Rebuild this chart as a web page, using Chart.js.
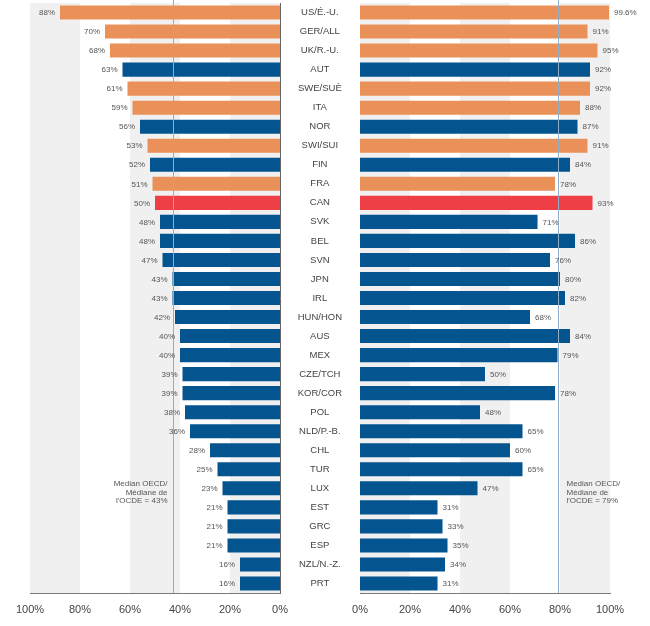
<!DOCTYPE html>
<html>
<head>
<meta charset="utf-8">
<script src="https://cdn.jsdelivr.net/npm/chart.js@4.4.1/dist/chart.umd.min.js"></script>
<style>
  html, body { margin: 0; padding: 0; background: #ffffff; }
  #wrap { position: relative; width: 650px; height: 626px; overflow: hidden; }
  #leftBox { position: absolute; left: 0; top: 0; width: 300px; height: 626px; }
  #rightBox { position: absolute; left: 280px; top: 0; width: 370px; height: 626px; }
</style>
</head>
<body>
<div id="wrap">
  <div id="leftBox"><canvas id="leftChart" width="300" height="626"></canvas></div>
  <div id="rightBox"><canvas id="rightChart" width="370" height="626"></canvas></div>
</div>
<script>
// ---- data ----
const countries = ['US/É.-U.', 'GER/ALL', 'UK/R.-U.', 'AUT', 'SWE/SUÈ', 'ITA', 'NOR', 'SWI/SUI', 'FIN', 'FRA',
  'CAN', 'SVK', 'BEL', 'SVN', 'JPN', 'IRL', 'HUN/HON', 'AUS', 'MEX', 'CZE/TCH', 'KOR/COR', 'POL',
  'NLD/P.-B.', 'CHL', 'TUR', 'LUX', 'EST', 'GRC', 'ESP', 'NZL/N.-Z.', 'PRT'];
const leftValues = [88, 70, 68, 63, 61, 59, 56, 53, 52, 51, 50, 48, 48, 47, 43, 43, 42, 40, 40, 39, 39, 38,
  36, 28, 25, 23, 21, 21, 21, 16, 16];
const rightValues = [99.6, 91, 95, 92, 92, 88, 87, 91, 84, 78, 93, 71, 86, 76, 80, 82, 68, 84, 79, 50, 78, 48,
  65, 60, 65, 47, 31, 33, 35, 34, 31];
const orangeGroup = ['US/É.-U.', 'GER/ALL', 'UK/R.-U.', 'SWE/SUÈ', 'ITA', 'SWI/SUI', 'FRA'];
const focusCountry = 'CAN';
const leftTicks = [0, 20, 40, 60, 80, 100];
const rightTicks = [0, 20, 40, 60, 80, 100];
const medianLeft = 43;
const medianRight = 79;
const medianLeftText = ['Median OECD/', 'Médiane de', "l'OCDE = 43%"];
const medianRightText = ['Median OECD/', 'Médiane de', "l'OCDE = 79%"];

// ---- styles ----
const FONT = "'Liberation Sans', Arial, Helvetica, sans-serif";
const C_ORANGE = '#EA9159';
const C_BLUE = '#03548F';
const C_RED = '#EF3F46';
const C_BAND = '#F0F0F0';
const C_MEDIAN = '#90AECA';
const C_AXIS = '#7a7a7a';

Chart.defaults.font.family = FONT;
Chart.defaults.animation = false;
Chart.defaults.devicePixelRatio = 1;

const barColors = countries.map(c => c === focusCountry ? C_RED : (orangeGroup.includes(c) ? C_ORANGE : C_BLUE));

function makePlugin(side) {
  return {
    id: 'decor_' + side,
    beforeDatasetsDraw(chart) {
      const ctx = chart.ctx;
      const xs = chart.scales.x;
      const area = chart.chartArea;
      ctx.save();
      ctx.fillStyle = C_BAND;
      // alternating bands: 0-20, 40-60, 80-100 shaded
      for (let i = 0; i < 5; i += 2) {
        const a = xs.getPixelForValue(i * 20);
        const b = xs.getPixelForValue(i * 20 + 20);
        ctx.fillRect(Math.min(a, b), area.top, Math.abs(b - a), area.bottom - area.top);
      }
      ctx.restore();
    },
    afterDatasetsDraw(chart) {
      const ctx = chart.ctx;
      const xs = chart.scales.x;
      const area = chart.chartArea;
      const meta = chart.getDatasetMeta(0);
      const vals = chart.data.datasets[0].data;
      ctx.save();
      // median line
      const med = side === 'left' ? medianLeft : medianRight;
      const mx = Math.round(xs.getPixelForValue(med)) + 0.5;
      ctx.strokeStyle = C_MEDIAN;
      ctx.lineWidth = 1;
      ctx.beginPath();
      ctx.moveTo(mx, 0);
      ctx.lineTo(mx, area.bottom);
      ctx.stroke();
      // value labels
      ctx.font = '8px ' + FONT;
      ctx.fillStyle = '#555555';
      ctx.textBaseline = 'middle';
      meta.data.forEach((bar, i) => {
        const txt = vals[i] + '%';
        if (side === 'left') {
          ctx.textAlign = 'right';
          ctx.fillText(txt, bar.x - 5, bar.y + 0.5);
        } else {
          ctx.textAlign = 'left';
          ctx.fillText(txt, bar.x + 5, bar.y + 0.5);
        }
      });
      // median annotation
      ctx.font = '8px ' + FONT;
      ctx.fillStyle = '#555555';
      const lines = side === 'left' ? medianLeftText : medianRightText;
      const y0 = 484;
      lines.forEach((t, k) => {
        if (side === 'left') {
          ctx.textAlign = 'right';
          ctx.fillText(t, mx - 6, y0 + k * 8.5);
        } else {
          ctx.textAlign = 'left';
          ctx.fillText(t, mx + 8, y0 + k * 8.5);
        }
      });
      ctx.restore();
    }
  };
}

function pctTick(v) { return v + '%'; }

// ---- left chart ----
new Chart(document.getElementById('leftChart'), {
  type: 'bar',
  data: {
    labels: countries,
    datasets: [{ data: leftValues, backgroundColor: barColors, borderWidth: 0,
      categoryPercentage: 1, barPercentage: 0.74 }]
  },
  options: {
    indexAxis: 'y',
    responsive: false,
    maintainAspectRatio: false,
    layout: { padding: { left: 30, right: 20, top: 3, bottom: 0 } },
    plugins: { legend: { display: false }, tooltip: { enabled: false } },
    scales: {
      x: {
        type: 'linear', reverse: true, min: 0, max: 100,
        afterBuildTicks(s) { s.ticks = leftTicks.map(v => ({ value: v })); },
        afterFit(s) { s.height = 33; },
        grid: { display: false, drawTicks: false },
        border: { display: true, color: C_AXIS, width: 1 },
        ticks: { callback: pctTick, color: '#444444', font: { size: 11 }, padding: 10, maxRotation: 0 }
      },
      y: {
        type: 'category', position: 'right',
        afterFit(s) { s.width = 0; s.paddingTop = 0; s.paddingBottom = 0; },
        grid: { display: false, drawTicks: false },
        border: { display: true, color: '#666666', width: 1 },
        ticks: { display: false }
      }
    }
  },
  plugins: [makePlugin('left')]
});

// ---- right chart ----
new Chart(document.getElementById('rightChart'), {
  type: 'bar',
  data: {
    labels: countries,
    datasets: [{ data: rightValues, backgroundColor: barColors, borderWidth: 0,
      categoryPercentage: 1, barPercentage: 0.74 }]
  },
  options: {
    indexAxis: 'y',
    responsive: false,
    maintainAspectRatio: false,
    layout: { padding: { left: 0, right: 40, top: 3, bottom: 0 } },
    plugins: { legend: { display: false }, tooltip: { enabled: false } },
    scales: {
      x: {
        type: 'linear', min: 0, max: 100,
        afterBuildTicks(s) { s.ticks = rightTicks.map(v => ({ value: v })); },
        afterFit(s) { s.height = 33; },
        grid: { display: false, drawTicks: false },
        border: { display: true, color: C_AXIS, width: 1 },
        ticks: { callback: pctTick, color: '#444444', font: { size: 11 }, padding: 10, maxRotation: 0 }
      },
      y: {
        type: 'category', position: 'left',
        afterFit(s) { s.width = 80; s.paddingTop = 0; s.paddingBottom = 0; },
        grid: { display: false, drawTicks: false },
        border: { display: true, color: '#666666', width: 1 },
        ticks: { color: '#444444', font: { size: 9.5 }, crossAlign: 'center', padding: 18, autoSkip: false }
      }
    }
  },
  plugins: [makePlugin('right')]
});
</script>
</body>
</html>
